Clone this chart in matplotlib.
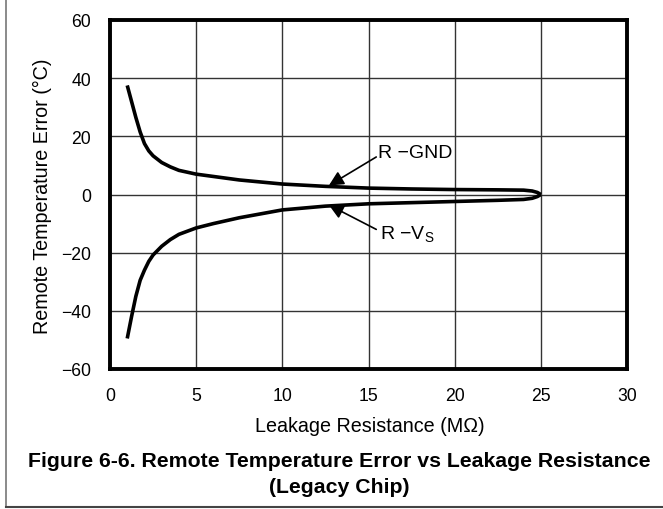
import matplotlib.pyplot as plt
from matplotlib.lines import Line2D

plt.rcParams['font.family'] = ['Liberation Sans', 'DejaVu Sans']
plt.rcParams['mathtext.fontset'] = 'custom'
plt.rcParams['mathtext.rm'] = 'Liberation Sans'

# R-GND leakage (upper branch)
gnd_x = [1.0, 1.25, 1.5, 1.75, 2.0, 2.25, 2.5, 3.0, 3.5, 4.0, 5.0, 6.0, 7.5, 10.0,
         12.5, 15.0, 17.5, 20.0, 22.5, 24.0, 24.5, 24.8, 25.0]
gnd_y = [37.5, 32.0, 26.5, 21.5, 17.5, 15.0, 13.3, 11.0, 9.5, 8.3, 7.0, 6.2, 5.0, 3.6,
         2.8, 2.2, 1.9, 1.7, 1.6, 1.5, 1.2, 0.7, 0.0]

# R-VS leakage (lower branch)
vs_x = [1.0, 1.25, 1.5, 1.75, 2.0, 2.25, 2.5, 3.0, 3.5, 4.0, 5.0, 6.0, 7.5, 10.0,
        12.5, 15.0, 17.5, 20.0, 22.5, 24.0, 24.5, 24.8, 25.0]
vs_y = [-49.5, -42.0, -35.0, -29.5, -26.0, -23.0, -20.8, -17.8, -15.5, -13.7, -11.5, -10.0, -8.0, -5.3,
        -4.0, -3.2, -2.8, -2.4, -2.0, -1.7, -1.3, -0.7, 0.0]

x_ticks = [0, 5, 10, 15, 20, 25, 30]
y_ticks = [-60, -40, -20, 0, 20, 40, 60]

fig = plt.figure(figsize=(6.63, 5.10), dpi=100)
ax = fig.add_axes([110 / 663, 1 - 370 / 510, (627 - 110) / 663, (370 - 21) / 510])

ax.plot(gnd_x, gnd_y, color='black', lw=2.6, solid_capstyle='butt', zorder=3)
ax.plot(vs_x, vs_y, color='black', lw=2.6, solid_capstyle='butt', zorder=3)

ax.set_xlim(0, 30)
ax.set_ylim(-60, 60)
ax.set_xticks(x_ticks)
ax.set_yticks(y_ticks)
ax.set_yticklabels([str(v).replace('-', '\u2212') for v in y_ticks])
ax.tick_params(length=0, labelsize=12.7)
ax.tick_params(axis='x', pad=13)
ax.tick_params(axis='y', pad=13.5)
ax.grid(True, color='#333333', lw=1.0)
for s in ax.spines.values():
    s.set_linewidth(2.8)

ax.set_xlabel('Leakage Resistance (M\u03a9)', fontsize=14.2, va='center')
ax.xaxis.set_label_coords(0.503, (370 - 427) / 349)
ax.set_ylabel('Remote Temperature Error (\u00b0C)', fontsize=14.2, va='center')
ax.yaxis.set_label_coords((42.5 - 110) / 517, 0.499)

arrow = dict(arrowstyle='-|>', color='black', lw=1.2, mutation_scale=22, shrinkA=0, shrinkB=0)
ax.annotate('', xy=(12.7, 3.1), xytext=(15.45, 12.9), arrowprops=arrow)
ax.annotate('', xy=(12.7, -3.6), xytext=(15.45, -12.0), arrowprops=arrow)
ax.text(15.55, 14.5, 'R \u2212GND', fontsize=14, ha='left', va='center')
ax.text(15.65, -13.5, 'R \u2212V$_\\mathregular{S}$', fontsize=14, ha='left', va='center')

fig.text(0.511, 1 - 462 / 510, 'Figure 6-6. Remote Temperature Error vs Leakage Resistance',
         fontsize=15.3, fontweight='bold', ha='center', va='center')
fig.text(0.511, 1 - 488 / 510, '(Legacy Chip)',
         fontsize=15.3, fontweight='bold', ha='center', va='center')

# page frame (left and bottom edges)
fig.add_artist(Line2D([5.5 / 663, 5.5 / 663], [1 - 508 / 510, 1.0], color='#777777', lw=1.2))
fig.add_artist(Line2D([5.5 / 663, 1.0], [1 - 508 / 510, 1 - 508 / 510], color='#444444', lw=1.5))

fig.savefig('out.png', dpi=100)
